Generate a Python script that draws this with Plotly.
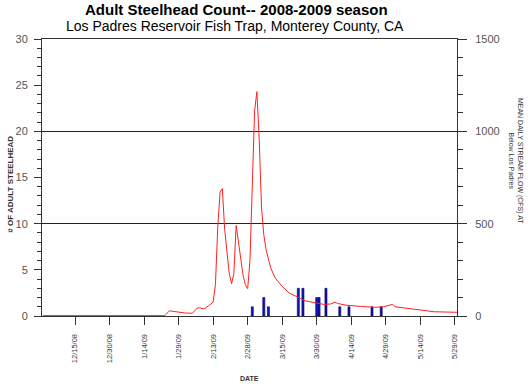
import plotly.graph_objects as go

# ---- data ----
flow_dates = ["2008-12-01", "2009-01-23", "2009-01-25", "2009-01-28", "2009-02-01", "2009-02-04",
              "2009-02-06", "2009-02-07", "2009-02-09", "2009-02-11", "2009-02-13", "2009-02-14",
              "2009-02-15", "2009-02-16", "2009-02-17", "2009-02-18", "2009-02-19", "2009-02-20",
              "2009-02-21", "2009-02-22", "2009-02-23", "2009-02-24", "2009-02-25", "2009-02-26",
              "2009-02-27", "2009-02-28", "2009-03-01", "2009-03-02", "2009-03-03", "2009-03-04",
              "2009-03-05", "2009-03-06", "2009-03-07", "2009-03-08", "2009-03-09", "2009-03-10",
              "2009-03-12", "2009-03-15", "2009-03-18", "2009-03-21", "2009-03-25", "2009-03-30",
              "2009-04-02", "2009-04-05", "2009-04-07", "2009-04-08", "2009-04-12", "2009-04-18",
              "2009-04-24", "2009-04-28", "2009-04-30", "2009-05-02", "2009-05-03", "2009-05-08",
              "2009-05-14", "2009-05-20", "2009-05-30"]
flow_cfs = [2, 2, 28, 22, 16, 15,
            42, 45, 38, 55, 75, 170,
            480, 670, 690, 470, 330, 230,
            175, 230, 490, 400, 300, 220,
            170, 148, 300, 730, 1110, 1215,
            960, 590, 440, 360, 300, 260,
            205, 160, 125, 105, 82, 70,
            63, 65, 75, 68, 58, 52,
            47, 50, 55, 63, 50, 42,
            32, 23, 20]

count_dates = ["2009-03-02", "2009-03-07", "2009-03-09", "2009-03-22", "2009-03-24", "2009-03-30",
               "2009-03-31", "2009-04-03", "2009-04-09", "2009-04-13", "2009-04-23", "2009-04-27"]
count_fish = [1, 2, 1, 3, 3, 2, 2, 3, 1, 1, 1, 1]

tick_dates = ["2008-12-15", "2008-12-30", "2009-01-14", "2009-01-29", "2009-02-13", "2009-02-28",
              "2009-03-15", "2009-03-30", "2009-04-14", "2009-04-29", "2009-05-14", "2009-05-29"]
tick_labels = ["12/15/08", "12/30/08", "1/14/09", "1/29/09", "2/13/09", "2/28/09",
               "3/15/09", "3/30/09", "4/14/09", "4/29/09", "5/14/09", "5/29/09"]

FONT = "Liberation Sans, Arial, sans-serif"
DAY_MS = 86400000

fig = go.Figure()
fig.add_trace(go.Bar(x=count_dates, y=count_fish, yaxis="y", width=0.9 * DAY_MS,
                     marker=dict(color="#1414b4", line=dict(width=0.6, color="#000060")),
                     showlegend=False))
fig.add_trace(go.Scatter(x=flow_dates, y=flow_cfs, yaxis="y2", mode="lines",
                         line=dict(color="#ff2020", width=1), showlegend=False))

fig.update_layout(
    width=528, height=384,
    margin=dict(l=42, r=71, t=39, b=68, autoexpand=False),
    paper_bgcolor="white", plot_bgcolor="white",
    font=dict(family=FONT, color="#444"),
    xaxis=dict(type="date", range=["2008-11-30 16:00", "2009-05-29 22:00"],
               tickvals=tick_dates, ticktext=tick_labels, tickangle=-90,
               tickfont=dict(size=7.5, color="#333"), ticklabelstandoff=6,
               ticks="outside", ticklen=8, tickcolor="#333",
               showline=True, linecolor="#333", linewidth=1, mirror=True,
               showgrid=False, zeroline=False, automargin=False),
    yaxis=dict(range=[0, 30], dtick=5, ticks="outside", ticklen=7, tickcolor="#333",
               minor=dict(dtick=1, ticks="outside", ticklen=4, tickcolor="#333"),
               tickfont=dict(size=11, color="#555"), ticklabelstandoff=4,
               showline=True, linecolor="#333", linewidth=1,
               showgrid=False, zeroline=False, automargin=False),
    yaxis2=dict(range=[0, 1500], dtick=500, overlaying="y", side="right",
                ticks="outside", ticklen=9, tickcolor="#333",
                minor=dict(dtick=100, ticks="outside", ticklen=5, tickcolor="#333"),
                tickfont=dict(size=11, color="#555"), ticklabelstandoff=6,
                showline=True, linecolor="#333", linewidth=1,
                showgrid=True, gridcolor="#222", gridwidth=1, zeroline=False, automargin=False),
    annotations=[
        dict(text="<b>Adult Steelhead Count-- 2008-2009 season</b>", xref="paper", yref="paper",
             x=0.468, y=1.108, xanchor="center", yanchor="middle", showarrow=False,
             font=dict(size=15, color="#000", family=FONT)),
        dict(text="Los Padres Reservoir Fish Trap, Monterey County, CA", xref="paper", yref="paper",
             x=0.466, y=1.047, xanchor="center", yanchor="middle", showarrow=False,
             font=dict(size=14, color="#000", family=FONT)),
        dict(text="<b>DATE</b>", xref="paper", yref="paper", x=0.501, y=-0.227,
             xanchor="center", yanchor="middle", showarrow=False,
             font=dict(size=7, color="#333", family=FONT)),
        dict(text="<b># OF ADULT STEELHEAD</b>", xref="paper", yref="paper", x=-0.075, y=0.477,
             xanchor="center", yanchor="middle", textangle=-90, showarrow=False,
             font=dict(size=8, color="#333", family=FONT)),
        dict(text="MEAN DAILY STREAM FLOW (CFS) AT<br>Below Los Padres", xref="paper", yref="paper",
             x=1.142, y=0.56, xanchor="center", yanchor="middle", textangle=90, showarrow=False,
             font=dict(size=7, color="#333", family=FONT)),
    ],
)

fig.write_html("out.html", config={"displayModeBar": False},
               post_script="document.body.style.margin='0';")
